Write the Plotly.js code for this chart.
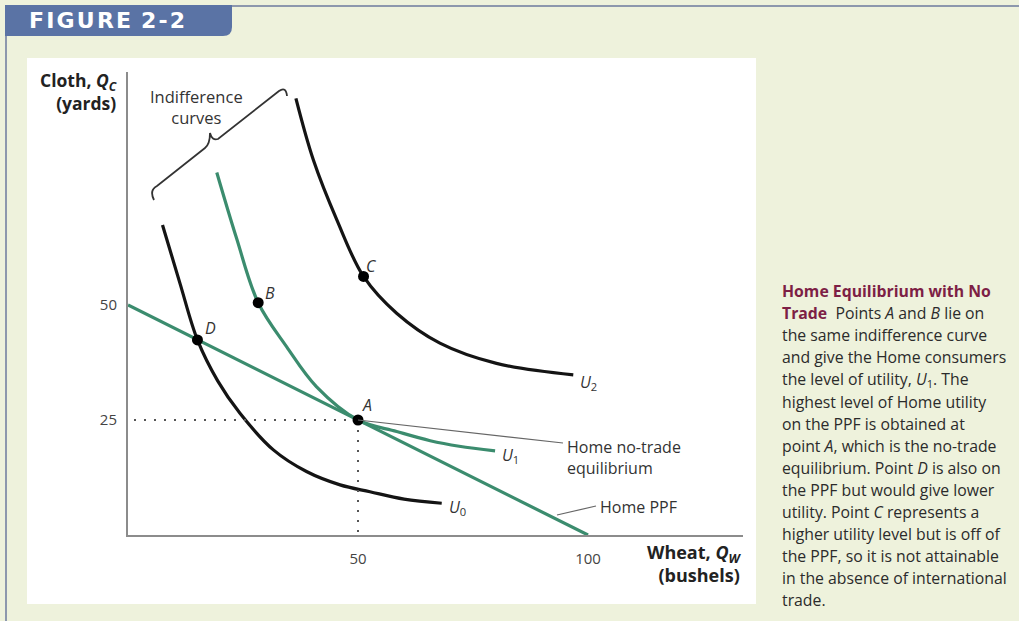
<!DOCTYPE html>
<html>
<head>
<meta charset="utf-8">
<script src="https://cdn.plot.ly/plotly-3.0.1.min.js"></script>
<style>html,body{margin:0;padding:0;background:#eef2dc;}#chart{width:1019px;height:621px;}</style>
</head>
<body>
<div id="chart"></div>
<script>
// ---- data ----
const ppfWheat = [0, 100];
const ppfCloth = [50, 0];

const u0Wheat = [7.5, 11.3, 15.1, 19.5, 24.3, 31.6, 38.8, 46.1, 52.6, 60.0, 68.2];
const u0Cloth = [67.4, 54.7, 42.4, 33.5, 26.5, 18.5, 13.8, 10.9, 9.4, 7.8, 6.9];

const u1Wheat = [19.3, 23.6, 28.3, 34.5, 41.0, 50, 58.4, 65.7, 72.0, 79.8];
const u1Cloth = [78.8, 64.5, 50.5, 40.9, 32.2, 25, 22.5, 20.5, 19.3, 18.3];

const u2Wheat = [36.5, 40.3, 45.4, 51.2, 58.4, 67.8, 80.1, 96.8];
const u2Cloth = [94.9, 81.5, 68.5, 56.2, 48.2, 41.7, 37.3, 34.8];

const pointNames = ["A", "B", "C", "D"];
const pointWheat = [50, 28.3, 51.2, 15.1];
const pointCloth = [25, 50.5, 56.2, 42.4];

const xTickVals = [50, 100];
const yTickVals = [25, 50];

const captionLines = [
  '<b><span style="color:#7d1f45">Home Equilibrium with No</span></b>',
  '<b><span style="color:#7d1f45">Trade</span></b>  Points <i>A</i> and <i>B</i> lie on',
  'the same indifference curve',
  'and give the Home consumers',
  'the level of utility, <i>U</i><sub>1</sub>. The',
  'highest level of Home utility',
  'on the PPF is obtained at',
  'point <i>A</i>, which is the no-trade',
  'equilibrium. Point <i>D</i> is also on',
  'the PPF but would give lower',
  'utility. Point <i>C</i> represents a',
  'higher utility level but is off of',
  'the PPF, so it is not attainable',
  'in the absence of international',
  'trade.'
];

// ---- geometry helpers (pixel -> data / paper) for decorations ----
const L = 128, T = 72, B = 535, R = 743;
const PW = R - L, PH = B - T, S = 4.6;
const XR = PW / S, YR = PH / S;
const dx = p => (p - L) / S;
const dy = p => (B - p) / S;
const px = p => (p - L) / PW;
const py = p => (B - p) / PH;

const GREEN = '#3b8c6e';
const FONT = 'Open Sans, Noto Sans, sans-serif';

const traces = [
  {x: ppfWheat, y: ppfCloth, mode: 'lines', line: {color: GREEN, width: 3.2}, hoverinfo: 'skip'},
  {x: u0Wheat, y: u0Cloth, mode: 'lines', line: {color: '#141414', width: 3.2, shape: 'spline', smoothing: 1}, hoverinfo: 'skip'},
  {x: u1Wheat, y: u1Cloth, mode: 'lines', line: {color: GREEN, width: 3.2, shape: 'spline', smoothing: 1}, hoverinfo: 'skip'},
  {x: u2Wheat, y: u2Cloth, mode: 'lines', line: {color: '#141414', width: 3.2, shape: 'spline', smoothing: 1}, hoverinfo: 'skip'},
  {x: [dx(134), pointWheat[0]], y: [pointCloth[0], pointCloth[0]], mode: 'lines', line: {color: '#555', width: 2, dash: '2px,8px'}, hoverinfo: 'skip'},
  {x: [pointWheat[0], pointWheat[0]], y: [pointCloth[0], 0], mode: 'lines', line: {color: '#555', width: 2, dash: '2px,8px'}, hoverinfo: 'skip'},
  {x: pointWheat, y: pointCloth, mode: 'markers', marker: {color: '#000', size: 11}, hoverinfo: 'skip'}
];

const letterOffsets = [[9, -15], [12, -10], [8, -10], [13, -12]];
const annotations = [];
pointNames.forEach((n, i) => {
  annotations.push({x: pointWheat[i], y: pointCloth[i], xref: 'x', yref: 'y', text: '<i>' + n + '</i>',
    showarrow: false, xanchor: 'center', yanchor: 'middle', xshift: letterOffsets[i][0], yshift: -letterOffsets[i][1],
    font: {family: FONT, size: 16, color: '#333'}});
});

function txt(x, y, text, opts) {
  return Object.assign({x: x, y: y, xref: 'paper', yref: 'paper', text: text, showarrow: false,
    xanchor: 'left', yanchor: 'middle',
    font: {family: FONT, size: 16, color: '#333'}}, opts || {});
}

const hs = '\u200A';
annotations.push(
  txt(px(578), py(382), '<i>U</i><sub>2</sub>'),
  txt(px(500), py(455), '<i>U</i><sub>1</sub>'),
  txt(px(447), py(507), '<i>U</i><sub>0</sub>'),
  txt(px(565), py(457), 'Home no-trade<br>equilibrium', {align: 'left'}),
  txt(px(598), py(507), 'Home PPF'),
  txt(px(196), py(107), 'Indifference<br>curves', {xanchor: 'center', align: 'center', font: {family: FONT, size: 16.5, color: '#333'}}),
  txt(px(119), py(91), 'Cloth, <i>Q</i><sub><i>C</i></sub><br>(yards)', {xanchor: 'right', align: 'right',
    font: {family: FONT, size: 17.5, color: '#222', weight: 'bold'}}),
  txt(px(744), py(563), 'Wheat, <i>Q</i><sub><i>W</i></sub><br>(bushels)', {xanchor: 'right', align: 'right',
    font: {family: FONT, size: 18, color: '#222', weight: 'bold'}}),
  txt(px(27), py(20), ['F','I','G','U','R','E',' 2','-','2'].join(hs), {
    font: {family: 'DejaVu Sans, sans-serif', size: 22, color: '#ffffff', weight: 'bold'}})
);
captionLines.forEach((t, i) => {
  annotations.push(txt(px(780), py(291 + i * 22.1), t, {align: 'left',
    font: {family: FONT, size: 15.8, color: '#2b2b2b'}}));
});

// brace path in data units
const braceD = 'M' + dx(154) + ',' + dy(200) + ' Q' + dx(149) + ',' + dy(190) + ' ' + dx(157) + ',' + dy(186) +
  ' L' + dx(205) + ',' + dy(148) + ' Q' + dx(210) + ',' + dy(144) + ' ' + dx(210) + ',' + dy(133) +
  ' Q' + dx(212) + ',' + dy(141) + ' ' + dx(218) + ',' + dy(139) +
  ' L' + dx(279) + ',' + dy(91) + ' Q' + dx(286) + ',' + dy(86) + ' ' + dx(287) + ',' + dy(96);

const tabD = 'M' + px(5) + ',' + py(5) + ' L' + px(232) + ',' + py(5) + ' L' + px(232) + ',' + py(27) +
  ' Q' + px(232) + ',' + py(36) + ' ' + px(223) + ',' + py(36) + ' L' + px(5) + ',' + py(36) + ' Z';

const shapes = [
  {type: 'rect', xref: 'paper', yref: 'paper', x0: px(27), x1: px(756), y0: py(604), y1: py(58),
    fillcolor: '#ffffff', line: {width: 0}, layer: 'below'},
  {type: 'line', xref: 'paper', yref: 'paper', x0: px(6), x1: px(1019), y0: py(6), y1: py(6),
    line: {color: '#8d98ad', width: 2}},
  {type: 'line', xref: 'paper', yref: 'paper', x0: px(6), x1: px(6), y0: py(6), y1: py(621),
    line: {color: '#8d98ad', width: 2}},
  {type: 'path', xref: 'paper', yref: 'paper', path: tabD, fillcolor: '#5a73a5', line: {width: 0}},
  {type: 'path', xref: 'x', yref: 'y', path: braceD, line: {color: '#333', width: 1.8}},
  {type: 'line', xref: 'x', yref: 'y', x0: pointWheat[0], y0: pointCloth[0], x1: dx(563), y1: dy(443),
    line: {color: '#666', width: 1.2}},
  {type: 'line', xref: 'x', yref: 'y', x0: dx(557), y0: dy(515), x1: dx(596), y1: dy(506),
    line: {color: '#666', width: 1.2}}
];

const layout = {
  width: 1019, height: 621,
  margin: {l: L, r: 1019 - R, t: T, b: 621 - B, pad: 0},
  paper_bgcolor: '#eef2dc', plot_bgcolor: 'rgba(0,0,0,0)',
  showlegend: false, hovermode: false,
  font: {family: FONT, color: '#444'},
  xaxis: {range: [0, XR], showgrid: false, zeroline: false, showline: true, linecolor: '#8c8c8c', linewidth: 2,
    tickvals: xTickVals, ticks: '', ticklabelstandoff: 9, tickfont: {family: FONT, size: 15, color: '#444'}, fixedrange: true},
  yaxis: {range: [0, YR], showgrid: false, zeroline: false, showline: true, linecolor: '#8c8c8c', linewidth: 2,
    tickvals: yTickVals, ticks: '', ticklabelstandoff: 6, tickfont: {family: FONT, size: 15, color: '#444'}, fixedrange: true},
  shapes: shapes,
  annotations: annotations
};

Plotly.newPlot('chart', traces, layout, {staticPlot: true, displayModeBar: false});
</script>
</body>
</html>
